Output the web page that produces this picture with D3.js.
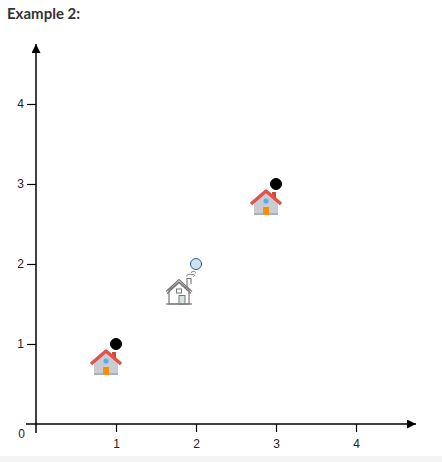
<!DOCTYPE html>
<meta charset="utf-8">
<style>
    body { margin: 0; background: #fff; }
    .title { font-family: Lato, "Open Sans", sans-serif; font-weight: bold; font-size: 15px; fill: #333; }
    .axis text { font-family: "Liberation Sans", Arial, sans-serif; font-size: 12px; fill: #222; }
    .axis line { stroke: #000; stroke-width: 1.2; }
</style>
<svg width="442" height="462"></svg>
<script src="https://d3js.org/d3.v7.min.js"></script>
<script>
    // data
    var pointX = [1, 2, 3];
    var pointY = [1, 2, 3];
    var pointKind = ['house', 'query', 'house'];
    var xTicks = [1, 2, 3, 4];
    var yTicks = [1, 2, 3, 4];

    var svg = d3.select('svg');

    var x = d3.scaleLinear().domain([0, 4.75]).range([36, 416]),
        y = d3.scaleLinear().domain([0, 4.75]).range([424, 44]);

    svg.append('text').attr('class', 'title').attr('x', 7).attr('y', 19).text('Example 2:');

    // grey strip at the bottom
    svg.append('rect').attr('x', 0).attr('y', 456).attr('width', 442).attr('height', 6).attr('fill', '#f4f4f4');

    var defs = svg.append('defs');
    defs.append('marker')
        .attr('id', 'arrow')
        .attr('viewBox', '0 0 10 10')
        .attr('refX', 10).attr('refY', 5)
        .attr('markerWidth', 6).attr('markerHeight', 6)
        .attr('markerUnits', 'strokeWidth')
        .attr('orient', 'auto')
        .append('path').attr('d', 'M0,0L10,5L0,10z').attr('fill', '#000');

    // x axis
    var gx = svg.append('g').attr('class', 'axis')
        .attr('transform', 'translate(0,' + y(0) + ')')
        .call(d3.axisBottom(x).tickValues(xTicks).tickFormat(d3.format('d')).tickSize(8).tickPadding(7));
    gx.select('.domain').remove();

    // y axis
    var gy = svg.append('g').attr('class', 'axis')
        .attr('transform', 'translate(' + x(0) + ',0)')
        .call(d3.axisLeft(y).tickValues(yTicks).tickFormat(d3.format('d')).tickSize(9).tickPadding(3));
    gy.select('.domain').remove();

    svg.append('line')
        .attr('x1', x(0) - 10).attr('y1', y(0)).attr('x2', x(4.75)).attr('y2', y(0))
        .attr('stroke', '#000').attr('stroke-width', 1.5).attr('marker-end', 'url(#arrow)');
    svg.append('line')
        .attr('x1', x(0)).attr('y1', y(0) + 9).attr('x2', x(0)).attr('y2', y(4.75))
        .attr('stroke', '#000').attr('stroke-width', 1.5).attr('marker-end', 'url(#arrow)');

    svg.append('text')
        .attr('x', x(0) - 11).attr('y', y(0) + 14)
        .attr('text-anchor', 'end')
        .style('font-family', '"Liberation Sans", Arial, sans-serif').style('font-size', '12px').attr('fill', '#222')
        .text('0');

    // coloured house icon, drawn relative to its point
    function colourHouse(g) {
        g.append('rect').attr('x', -4).attr('y', 8).attr('width', 4).attr('height', 8).attr('fill', '#d9453b');
        g.append('path').attr('d', 'M-22,31V18L-10,8L2,18V31Z').attr('fill', '#c9cdd1');
        g.append('rect').attr('x', -22).attr('y', 29).attr('width', 24).attr('height', 2).attr('fill', '#aab1b6');
        g.append('path').attr('d', 'M-25,20L-10,7L5,20')
            .attr('fill', 'none').attr('stroke', '#e0534a').attr('stroke-width', 3.5).attr('stroke-linejoin', 'round');
        g.append('circle').attr('cx', -10).attr('cy', 17).attr('r', 2.6).attr('fill', '#55acee');
        g.append('rect').attr('x', -13).attr('y', 23).attr('width', 6).attr('height', 8).attr('fill', '#f4900c');
    }

    // grey line-art house icon
    function greyHouse(g) {
        var s = '#777';
        g.append('path').attr('d', 'M-9,24V14.5H-5V20')
            .attr('fill', '#fff').attr('stroke', s).attr('stroke-width', 1.1);
        g.append('path').attr('d', 'M-9,12.5C-10,10.5 -6,9.5 -4,11C-2,9.5 0,11.5 -3,12.5')
            .attr('fill', 'none').attr('stroke', s).attr('stroke-width', 1);
        g.append('path').attr('d', 'M-5,8.5C-3,6.5 1,7.5 -1,9.5')
            .attr('fill', 'none').attr('stroke', s).attr('stroke-width', 1);
        g.append('path').attr('d', 'M-27,40V26L-17,18L-7,26V40Z')
            .attr('fill', '#fff').attr('stroke', s).attr('stroke-width', 1.2);
        g.append('path').attr('d', 'M-30,27.5L-17,15.5L-4,27.5')
            .attr('fill', 'none').attr('stroke', s).attr('stroke-width', 1.2);
        g.append('path').attr('d', 'M-29,29.5L-17,18.5L-5,29.5')
            .attr('fill', 'none').attr('stroke', s).attr('stroke-width', 1.2);
        g.append('rect').attr('x', -19.5).attr('y', 25).attr('width', 5).attr('height', 4)
            .attr('fill', '#fff').attr('stroke', s).attr('stroke-width', 1);
        g.append('rect').attr('x', -17).attr('y', 31.5).attr('width', 6).attr('height', 8.5)
            .attr('fill', '#d5e6dc').attr('stroke', s).attr('stroke-width', 1);
        g.append('line').attr('x1', -30).attr('x2', -4).attr('y1', 40).attr('y2', 40)
            .attr('stroke', s).attr('stroke-width', 1.3);
    }

    var pts = pointX.map(function (d, i) { return { x: d, y: pointY[i], kind: pointKind[i] }; });

    var items = svg.selectAll('.pt')
        .data(pts)
        .enter().append('g')
        .attr('class', 'pt')
        .attr('transform', function (d) { return 'translate(' + x(d.x) + ',' + y(d.y) + ')'; });

    items.each(function (d) {
        var g = d3.select(this);
        if (d.kind === 'house') colourHouse(g); else greyHouse(g);
        g.append('circle')
            .attr('r', 5.5)
            .attr('fill', d.kind === 'house' ? '#000' : '#cfe2f3')
            .attr('stroke', d.kind === 'house' ? '#000' : '#2c5a8a')
            .attr('stroke-width', 1);
    });
</script>
